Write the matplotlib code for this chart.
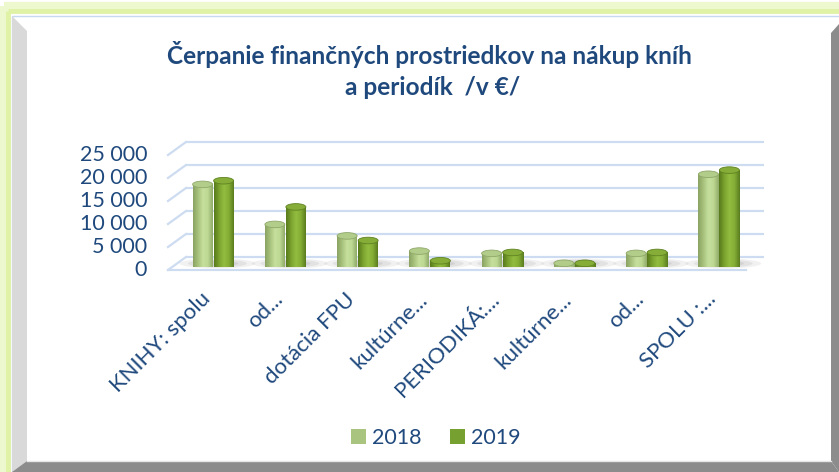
import numpy as np
import matplotlib.pyplot as plt
from matplotlib.patches import Polygon, Ellipse, Rectangle, Patch
from matplotlib.colors import LinearSegmentedColormap

categories = ["KNIHY: spolu", "od...", "dotácia FPU", "kultúrne...",
              "PERIODIKÁ:...", "kultúrne...", "od...", "SPOLU :..."]
years = ["2018", "2019"]
values_2018 = [17200, 8500, 6000, 2700, 2200, 50, 2200, 19400]
values_2019 = [18000, 12300, 5000, 600, 2400, 50, 2400, 20300]
yticks = [0, 5000, 10000, 15000, 20000, 25000]
ytick_labels = ["0", "5 000", "10 000", "15 000", "20 000", "25 000"]
title = "Čerpanie finančných prostriedkov na nákup kníh\na periodík  /v €/"

W, H = 839, 472
plt.rcParams['font.family'] = ['Lato', 'DejaVu Sans']
text_c = '#1f497d'
grid_c = '#cddcf0'

fig = plt.figure(figsize=(W / 100, H / 100), dpi=100)

# frame drawn in pixel coordinates (y down)
bg = fig.add_axes([0, 0, 1, 1])
bg.set_xlim(0, W)
bg.set_ylim(H, 0)
bg.axis('off')
bg.add_patch(Rectangle((4, 6), 900, 520, fill=False, ec='#eef8cf', lw=6))
bg.add_patch(Rectangle((8, 11), 900, 520, fill=False, ec='#dff2a6', lw=3.5))
bg.add_patch(Rectangle((12, 16), 900, 520, fc='white', ec='#c6d9f0', lw=1))
bg.add_patch(Polygon([(12, 16), (27, 31), (27, 461), (12, 472)], fc='#d9d9d9', ec='none'))
bg.add_patch(Polygon([(12, 472), (27, 461), (831, 461), (839, 472)], fc='#8c8c8c', ec='none'))
bg.add_patch(Polygon([(839, 24), (831, 33), (831, 461), (839, 472)], fc='#8c8c8c', ec='none'))
bg.plot([27, 831], [460.5, 460.5], color='#e6e6e6', lw=1)

# chart area (bars sit at mid depth)
ax = fig.add_axes([177 / W, (H - 263.5) / H, 578 / W, 115 / H])
ax.set_xlim(-0.5, 7.5)
ax.set_ylim(0, 25000)
ax.axis('off')
ax.patch.set_alpha(0)

upx_x = 8 / 578.0      # x units per pixel
upx_y = 25000 / 115.0  # y units per pixel
dx, dy = 9 * upx_x, 6.5 * upx_y   # half depth offset

for v, lab in zip(yticks, ytick_labels):
    ax.plot([-0.5 + dx, 7.5 + dx], [v + dy, v + dy], color=grid_c, lw=1.6,
            clip_on=False, zorder=1, solid_capstyle='butt')
    ax.plot([-0.5 + dx, -0.5 - dx], [v + dy, v - dy], color=grid_c, lw=1.6,
            clip_on=False, zorder=1)
    ax.text(-0.5 - dx - 21 * upx_x, v - dy, lab,
            ha='right', va='center', fontsize=15.5, color=text_c)
ax.plot([-0.5 - dx, 7.5 - dx], [-dy, -dy], color=grid_c, lw=1.6, clip_on=False, zorder=1)

cmap_2018 = LinearSegmentedColormap.from_list(
    'c18', ['#8aa263', '#a7c27c', '#c6df9d', '#bdd893', '#91ab69'])
cmap_2019 = LinearSegmentedColormap.from_list(
    'c19', ['#587a1d', '#7aa22e', '#92bd40', '#84ad35', '#5a7c1f'])

bar_w = 20 * upx_x
ry = 3.3 * upx_y


def cylinder(xc, value, cmap, top_c, edge_c):
    rx = bar_w / 2
    t = np.linspace(np.pi, 2 * np.pi, 40)
    bottom = np.column_stack([xc + rx * np.cos(t), ry * np.sin(t)])
    verts = np.vstack([[xc - rx, value], bottom, [xc + rx, value]])
    body = Polygon(verts, closed=True, fc='none', ec='none')
    ax.add_patch(body)
    grad = np.linspace(0, 1, 64).reshape(1, -1)
    im = ax.imshow(grad, cmap=cmap, extent=[xc - rx, xc + rx, -ry, value],
                   aspect='auto', origin='lower', zorder=3, clip_on=False)
    im.set_clip_path(body)
    ax.add_patch(Ellipse((xc, value), bar_w, 2 * ry, fc=top_c, ec=edge_c,
                         lw=0.6, zorder=4, clip_on=False))


off = 10.5 * upx_x
for i in range(len(categories)):
    # soft floor shadow
    for k, a in [(1.0, 0.15), (0.75, 0.2), (0.5, 0.25)]:
        ax.add_patch(Ellipse((i + 0.06, 0), 0.95 * k + 0.1, 8 * upx_y * k + 2 * upx_y,
                             fc='#a6a6a6', ec='none', alpha=a, zorder=2, clip_on=False))
    cylinder(i - off, values_2018[i], cmap_2018, '#b2cc8a', '#8fa86a')
    cylinder(i + off, values_2019[i], cmap_2019, '#86ad38', '#5f8322')
    ax.text(i - dx - 4 * upx_x, -dy - 19 * upx_y, categories[i], rotation=45,
            rotation_mode='anchor', ha='right', va='top', fontsize=16, color=text_c)

ax.set_xlim(-0.5, 7.5)
ax.set_ylim(0, 25000)

fig.text(429 / W, 1 - 55 / H, title.split('\n')[0], ha='center', va='center',
         fontsize=17.6, fontweight='bold', color=text_c)
fig.text(433 / W, 1 - 87 / H, title.split('\n')[1], ha='center', va='center',
         fontsize=17.6, fontweight='bold', color=text_c)

handles = [Patch(fc='#a9c47e', ec='none'), Patch(fc='#76a030', ec='none')]
fig.legend(handles, years, loc='center', bbox_to_anchor=(436 / W, 1 - 438 / H),
           ncol=2, frameon=False, fontsize=15.5, handlelength=0.7, handleheight=0.7,
           handletextpad=0.3, columnspacing=1.3, labelcolor=text_c)

fig.savefig('out.png', dpi=100)
